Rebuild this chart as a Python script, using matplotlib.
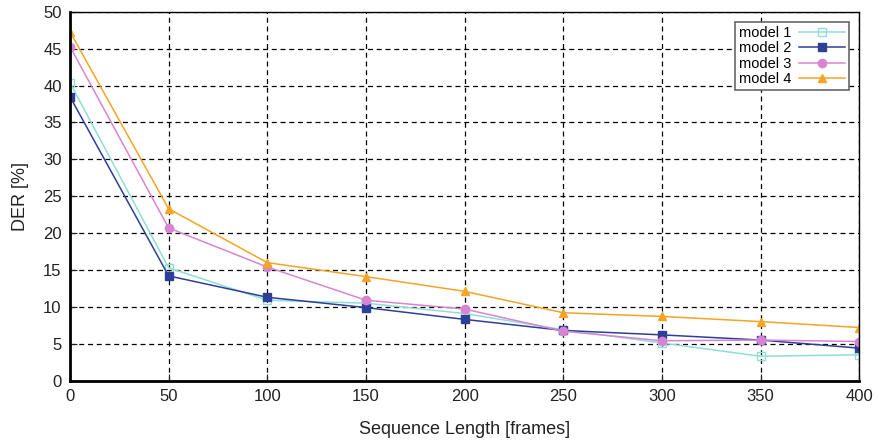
import matplotlib
matplotlib.use("Agg")
import matplotlib.pyplot as plt

x = [0, 50, 100, 150, 200, 250, 300, 350, 400]
model1 = [40.4, 15.3, 10.9, 10.5, 9.1, 6.9, 5.1, 3.3, 3.5]
model2 = [38.5, 14.2, 11.3, 9.9, 8.3, 6.8, 6.2, 5.5, 4.4]
model3 = [45.3, 20.7, 15.4, 10.9, 9.7, 6.7, 5.4, 5.5, 5.3]
model4 = [47.3, 23.3, 16.0, 14.1, 12.1, 9.2, 8.7, 8.0, 7.2]

plt.rcParams['font.family'] = ['Liberation Sans', 'DejaVu Sans']

fig = plt.figure(figsize=(8.79, 4.40), dpi=100)
ax = fig.add_axes([0.0796, 0.135, 0.898, 0.838])

ax.plot(x, model1, color='#8fded6', marker='s', markerfacecolor='none',
        markeredgecolor='#8fded6', markersize=5.5, lw=1.1, label='model 1')
ax.plot(x, model2, color='#2d3f98', marker='s', markersize=5.5, lw=1.1, label='model 2')
ax.plot(x, model3, color='#d884d2', marker='o', markersize=6, lw=1.1, label='model 3')
ax.plot(x, model4, color='#f5a424', marker='^', markersize=5.5, lw=1.1, label='model 4')

ax.set_xlim(0, 400)
ax.set_ylim(0, 50)
ax.set_xticks(range(0, 401, 50))
ax.set_yticks(range(0, 51, 5))
ax.grid(True, color='black', linestyle=(0, (4, 3)), linewidth=0.9)
ax.tick_params(direction='in', length=5, labelsize=12, colors='#222222', pad=6)
for s in ax.spines.values():
    s.set_linewidth(1.0)
ax.spines['left'].set_linewidth(2.0)
ax.spines['bottom'].set_linewidth(2.0)

ax.set_xlabel('Sequence Length [frames]', fontsize=13, color='#222222', labelpad=12)
ax.set_ylabel('DER [%]', fontsize=13, color='#222222', labelpad=10)

leg = ax.legend(loc='upper right', markerfirst=False, fontsize=10.5, fancybox=False,
                framealpha=1, edgecolor='#666666', borderpad=0.25, labelspacing=0.1,
                handlelength=3.2, handletextpad=0.5, borderaxespad=0.7)
leg.get_frame().set_linewidth(1.2)

fig.savefig('out.png', dpi=100)
